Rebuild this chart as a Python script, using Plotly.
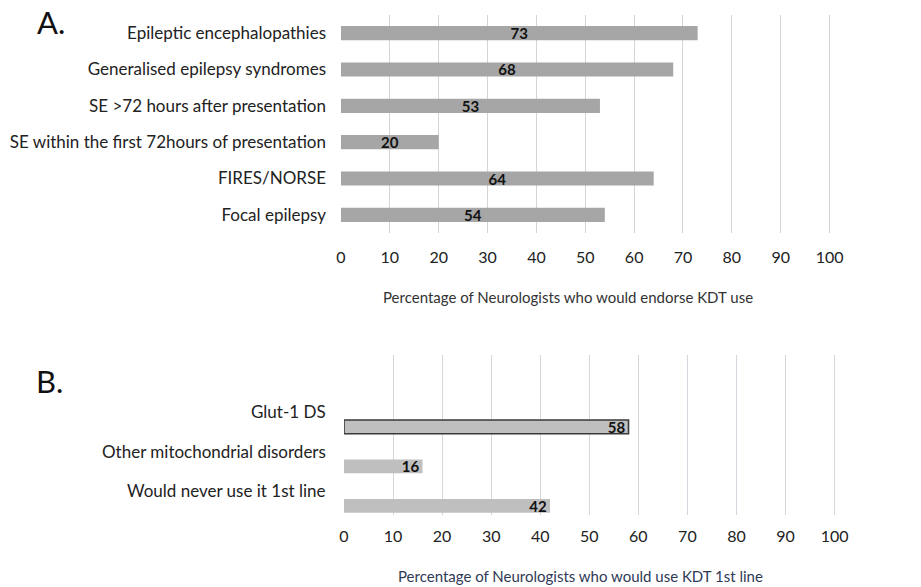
import plotly.graph_objects as go

# Panel A data (top to bottom)
cats_a = ["Epileptic encephalopathies", "Generalised epilepsy syndromes",
          "SE >72 hours after presentation", "SE within the first 72hours of presentation",
          "FIRES/NORSE", "Focal epilepsy"]
vals_a = [73, 68, 53, 20, 64, 54]

# Panel B data (top to bottom)
cats_b = ["Glut-1 DS", "Other mitochondrial disorders", "Would never use it 1st line"]
vals_b = [58, 16, 42]

ticks = [0, 10, 20, 30, 40, 50, 60, 70, 80, 90, 100]

W, H = 921, 587
FONT = "Lato"

def px(x):
    return x / W

def py(y):
    return 1 - y / H

fig = go.Figure()

fig.add_trace(go.Bar(
    x=vals_a, y=cats_a, orientation="h", width=0.39,
    marker=dict(color="#a6a6a6", line=dict(width=0)),
    text=[str(v) for v in vals_a], textposition="inside", insidetextanchor="middle",
    textangle=0,
    textfont=dict(family=FONT, size=15, color="#111111", weight="bold"),
    xaxis="x", yaxis="y", showlegend=False, cliponaxis=False, hoverinfo="skip",
))

fig.add_trace(go.Bar(
    x=vals_b, y=cats_b, orientation="h", width=0.35,
    marker=dict(color="#bfbfbf", line=dict(width=[1.6, 0, 0], color="#3a3a3a")),
    text=[str(v) for v in vals_b], textposition="inside", insidetextanchor="end",
    textangle=0,
    textfont=dict(family=FONT, size=15, color="#111111", weight="bold"),
    xaxis="x2", yaxis="y2", showlegend=False, cliponaxis=False, hoverinfo="skip",
))

axis_common = dict(
    range=[0, 100.5], tickvals=ticks, showgrid=True, gridwidth=1.2,
    zeroline=False, showline=False, ticks="", automargin=False,
    tickfont=dict(family=FONT, size=16, color="#222222"),
)

fig.update_layout(
    template="none",
    width=W, height=H, autosize=False,
    margin=dict(l=0, r=0, t=0, b=0, pad=0),
    paper_bgcolor="white", plot_bgcolor="white",
    font=dict(family=FONT),
    uniformtext=dict(mode="show", minsize=10),
    xaxis=dict(domain=[px(341), px(832)], anchor="y", gridcolor="#d4d4d4",
               ticklabelstandoff=13, **axis_common),
    yaxis=dict(domain=[py(233), py(15)], anchor="x", categoryorder="array",
               categoryarray=cats_a, autorange=False, range=[5.5, -0.5],
               showgrid=False, showline=False, zeroline=False, ticks="",
               ticklabelstandoff=14, automargin=False,
               tickfont=dict(family=FONT, size=17, color="#222222")),
    xaxis2=dict(domain=[px(344), px(837)], anchor="y2", gridcolor="#d3d6dd",
                ticklabelstandoff=10, **axis_common),
    yaxis2=dict(domain=[py(515), py(355)], anchor="x2", categoryorder="array",
                categoryarray=cats_b, autorange=False, range=[2.23, -1.82],
                showgrid=False, showline=False, zeroline=False,
                showticklabels=False, ticks="", automargin=False),
)

annotations = [
    dict(text="A.", x=px(35), y=py(22), xref="paper", yref="paper",
         xanchor="left", yanchor="middle", showarrow=False,
         font=dict(family=FONT, size=31, color="#111111")),
    dict(text="B.", x=px(34), y=py(381), xref="paper", yref="paper",
         xanchor="left", yanchor="middle", showarrow=False,
         font=dict(family=FONT, size=31, color="#111111")),
    dict(text="Percentage of Neurologists who would endorse KDT use",
         x=px(568), y=py(297), xref="paper", yref="paper",
         xanchor="center", yanchor="middle", showarrow=False,
         font=dict(family=FONT, size=15, color="#333333")),
    dict(text="Percentage of Neurologists who would use KDT 1st line",
         x=px(580), y=py(576), xref="paper", yref="paper",
         xanchor="center", yanchor="middle", showarrow=False,
         font=dict(family=FONT, size=15, color="#2f3a56")),
]
for c in cats_b:
    annotations.append(dict(text=c, x=px(328), y=c, xref="paper", yref="y2",
                            xanchor="right", yanchor="middle", yshift=15, showarrow=False,
                            font=dict(family=FONT, size=17, color="#222222")))
fig.update_layout(annotations=annotations)

fig.write_html(
    "out.html",
    config={"displayModeBar": False},
    post_script="document.body.style.margin='0';document.body.style.overflow='hidden';",
)
